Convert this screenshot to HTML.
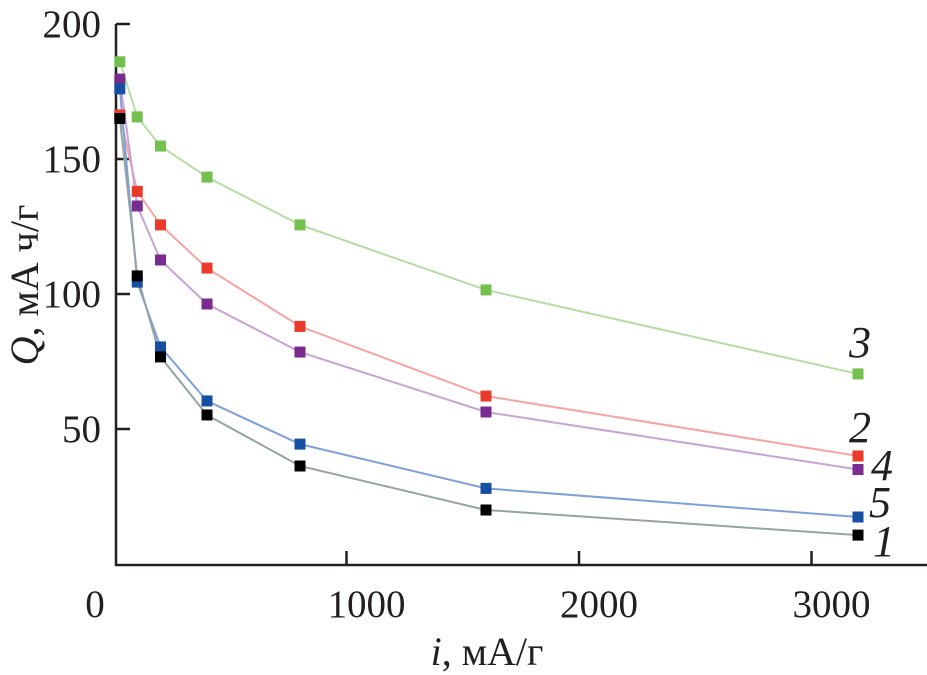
<!DOCTYPE html>
<html><head><meta charset="utf-8"><style>
html,body{margin:0;padding:0;background:#fff;}
svg{display:block;font-family:"Liberation Serif",serif;}
</style></head><body>
<svg id="chart" width="927" height="675" viewBox="0 0 927 675">
<g id="axes"></g><g id="series"></g>
</svg>
<script>
const xValues=[25,100,200,400,800,1600,3200];
const seriesNames=["3","2","4","5","1"];
const series3=[186,165.6,154.8,143.3,125.6,101.5,70.4];
const series2=[166.3,138,125.6,109.6,88,62.2,40];
const series4=[179.6,132.6,112.6,96.3,78.5,56.3,35];
const series5=[176,104.4,80.4,60.4,44.4,28,17.4];
const series1=[165,106.7,76.7,55.2,36.3,20,10.7];
const yTicks=[50,100,150,200];
const xTicks=[0,1000,2000,3000];
const xTickLabels=["0","1000","2000","3000"];

const NS="http://www.w3.org/2000/svg";
const X0=114,XS=0.2325,Y0=564,YS=2.7;
function sx(v){return X0+v*XS;}
function sy(v){return Y0-v*YS;}
function mk(tag,attrs,parent,text){const e=document.createElementNS(NS,tag);for(const k in attrs)e.setAttribute(k,attrs[k]);if(text!==undefined)e.textContent=text;parent.appendChild(e);return e;}
const axes=document.getElementById('axes'),sg=document.getElementById('series');

let a=mk('path',{d:'M116,24 V565 H927',fill:'none',stroke:'#231f20','stroke-width':2.5},axes);


yTicks.forEach(v=>{
 const t=mk('line',{x1:116,x2:130,y1:sy(v),y2:sy(v),stroke:'#231f20','stroke-width':2.5},axes);
 
 
 const l=mk('text',{x:101,y:sy(v)+13,'text-anchor':'end','font-size':39,fill:'#231f20'},axes,String(v));
 
 
});
xTicks.forEach((v,i)=>{
 if(v>0){const t=mk('line',{x1:sx(v),x2:sx(v),y1:565,y2:551,stroke:'#231f20','stroke-width':2.5},axes);
 
 }
 const l=mk('text',{x:(v===0?95:sx(v)+20),y:617,'text-anchor':'middle','font-size':39,fill:'#231f20'},axes,xTickLabels[i]);
 
 
});
const xt=mk('text',{x:487,y:665,'text-anchor':'middle','font-size':40,fill:'#231f20'},axes);


mk('tspan',{'font-style':'italic'},xt,'i');mk('tspan',{},xt,', мА/г');
const yt=mk('text',{x:0,y:0,'text-anchor':'middle','font-size':40,fill:'#231f20',transform:'translate(38,285) rotate(-90)'},axes);


mk('tspan',{'font-style':'italic'},yt,'Q');mk('tspan',{},yt,', мА ч/г');

const all=[series3,series2,series4,series5,series1];
const lineCol=["#b5dca4","#f6a3a3","#c9a2d6","#7f9fda","#94a3a3"];
const markCol=["#74c04f","#ea3a2a","#7a2b8f","#164ea2","#000000"];
const labelPos=[[860,343],[860,428],[882,466],[880,503],[884,542]];
all.forEach((s,k)=>{
 const d=s.map((v,i)=>(i?'L':'M')+sx(xValues[i])+','+sy(v)).join(' ');
 const p=mk('path',{d:d,fill:'none',stroke:lineCol[k],'stroke-width':2},sg);
 
 
});
all.forEach((s,k)=>{
 s.forEach((v,i)=>{
  const r=mk('rect',{x:sx(xValues[i])-5.5,y:sy(v)-5.5,width:11,height:11,fill:markCol[k]},sg);
  
  
 });
 const t=mk('text',{x:labelPos[k][0],y:labelPos[k][1]+14,'text-anchor':'middle','font-size':44,'font-style':'italic',fill:'#231f20'},sg,seriesNames[k]);
 
 
});
</script>
</body></html>
